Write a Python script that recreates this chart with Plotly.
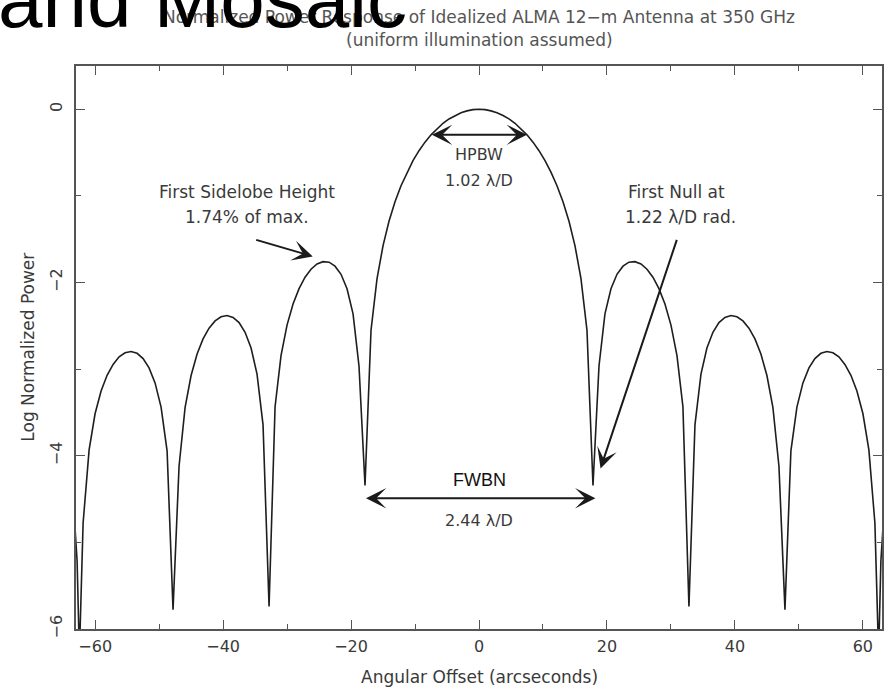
import plotly.graph_objects as go

# Angular offset (arcsec) and log10 normalized power
offset_pos = [0.00, 0.94, 1.88, 2.81, 3.75, 4.69, 5.63, 6.56, 7.50, 8.44, 9.38, 10.32,
              11.25, 12.19, 13.13, 14.07, 15.00, 15.94, 16.88, 17.82, 18.76, 19.69,
              20.63, 21.57, 22.51, 23.44, 24.38, 25.32, 26.26, 27.19, 28.13, 29.07,
              30.01, 30.95, 31.88, 32.82, 33.76, 34.70, 35.63, 36.57, 37.51, 38.45,
              39.39, 40.32, 41.26, 42.20, 43.14, 44.07, 45.01, 45.95, 46.89, 47.83,
              48.76, 49.70, 50.64, 51.58, 52.51, 53.45, 54.39, 55.33, 56.26, 57.20,
              58.14, 59.08, 60.02, 60.95, 61.89, 62.47, 62.83, 63.77]
power_pos = [0.000, -0.004, -0.018, -0.039, -0.071, -0.111, -0.161, -0.222, -0.295, -0.379,
             -0.478, -0.593, -0.726, -0.882, -1.067, -1.292, -1.574, -1.954, -2.551, -4.343,
             -2.963, -2.361, -2.071, -1.905, -1.811, -1.765, -1.759, -1.786, -1.846, -1.939,
             -2.070, -2.248, -2.492, -2.843, -3.434, -5.740, -3.643, -3.057, -2.756, -2.574,
             -2.463, -2.402, -2.381, -2.395, -2.443, -2.527, -2.651, -2.826, -3.073, -3.445,
             -4.121, -5.776, -3.943, -3.438, -3.159, -2.986, -2.878, -2.817, -2.796, -2.811,
             -2.858, -2.945, -3.071, -3.252, -3.515, -3.932, -4.776, -6.300, -5.210, -4.110]
offset_neg = [-63.77, -62.83, -62.47, -61.89, -60.95, -60.02, -59.08, -58.14, -57.20, -56.26,
              -55.33, -54.39, -53.45, -52.51, -51.58, -50.64, -49.70, -48.76, -47.83, -46.89,
              -45.95, -45.01, -44.07, -43.14, -42.20, -41.26, -40.32, -39.39, -38.45, -37.51,
              -36.57, -35.63, -34.70, -33.76, -32.82, -31.88, -30.95, -30.01, -29.07, -28.13,
              -27.19, -26.26, -25.32, -24.38, -23.44, -22.51, -21.57, -20.63, -19.69, -18.76,
              -17.82, -16.88, -15.94, -15.00, -14.07, -13.13, -12.19, -11.25, -10.32, -9.38,
              -8.44, -7.50, -6.56, -5.63, -4.69, -3.75, -2.81, -1.88, -0.94]
power_neg = [-4.110, -5.210, -6.300, -4.776, -3.932, -3.515, -3.252, -3.071, -2.945, -2.858,
             -2.811, -2.796, -2.817, -2.878, -2.986, -3.159, -3.438, -3.943, -5.776, -4.121,
             -3.445, -3.073, -2.826, -2.651, -2.527, -2.443, -2.395, -2.381, -2.402, -2.463,
             -2.574, -2.756, -3.057, -3.643, -5.740, -3.434, -2.843, -2.492, -2.248, -2.070,
             -1.939, -1.846, -1.786, -1.759, -1.765, -1.811, -1.905, -2.071, -2.361, -2.963,
             -4.343, -2.551, -1.954, -1.574, -1.292, -1.067, -0.882, -0.726, -0.593, -0.478,
             -0.379, -0.295, -0.222, -0.161, -0.111, -0.071, -0.039, -0.018, -0.004]

x_ticks = [-60, -40, -20, 0, 20, 40, 60]
x_tick_labels = ["\u221260", "\u221240", "\u221220", "0", "20", "40", "60"]
y_ticks = [0, -2, -4, -6]
y_tick_labels = ["0", "\u22122", "\u22124", "\u22126"]

title_line1 = "Normalized Power Response of Idealized ALMA 12\u2212m Antenna at 350 GHz"
title_line2 = "(uniform illumination assumed)"
overlay_text = "and Mosaic"

offsets = offset_neg + offset_pos
powers = power_neg + power_pos

TXT = "#3a3a3a"
FONT = "DejaVu Sans"

fig = go.Figure()
fig.add_trace(go.Scatter(x=offsets, y=powers, mode="lines",
                         line=dict(color="#1e1e1e", width=1.6), showlegend=False))

axis_common = dict(showgrid=False, zeroline=False, showline=True, linecolor="#555555",
                   linewidth=1.6, mirror="allticks", ticks="inside", ticklen=9,
                   tickwidth=1.4, tickcolor="#555555",
                   tickfont=dict(family=FONT, size=16, color=TXT))

fig.update_xaxes(range=[-63, 63], tickvals=x_ticks, ticktext=x_tick_labels,
                 minor=dict(dtick=10, tick0=0, ticklen=5, tickwidth=1.4,
                            tickcolor="#555555", ticks="inside"),
                 ticklabelstandoff=2, **axis_common)
fig.update_yaxes(range=[-6, 0.5], tickvals=y_ticks, ticktext=y_tick_labels,
                 tickangle=-90,
                 minor=dict(dtick=1, tick0=0, ticklen=5, tickwidth=1.4,
                            tickcolor="#555555", ticks="inside"),
                 ticklabelstandoff=6, **axis_common)

ann = []
# Title
ann.append(dict(text=title_line1, x=0, xref="x", y=1.087, yref="paper",
                xanchor="center", yanchor="middle", showarrow=False,
                font=dict(family=FONT, size=17, color="#555555")))
ann.append(dict(text=title_line2, x=0, xref="x", y=1.046, yref="paper",
                xanchor="center", yanchor="middle", showarrow=False,
                font=dict(family=FONT, size=17, color="#555555")))
# Axis titles
ann.append(dict(text="Angular Offset (arcseconds)", x=0, xref="x", y=-0.0853, yref="paper",
                xanchor="center", yanchor="middle", showarrow=False,
                font=dict(family=FONT, size=17, color=TXT)))
ann.append(dict(text="Log Normalized Power", x=-0.0606, xref="paper", y=0.5, yref="paper",
                xanchor="center", yanchor="middle", showarrow=False, textangle=-90,
                font=dict(family=FONT, size=17, color=TXT)))
# Labels
def lab(t, x, y, size=17, fam=FONT, color=TXT):
    return dict(text=t, x=x, y=y, xref="x", yref="y", showarrow=False,
                xanchor="center", yanchor="middle",
                font=dict(family=fam, size=size, color=color))

ann.append(lab("HPBW", 0, -0.525, size=16))
ann.append(lab("1.02 \u03bb/D", 0, -0.824, size=16))
ann.append(lab("First Sidelobe Height", -36.3, -0.951))
ann.append(lab("1.74% of max.", -36.2, -1.249))
ann.append(lab("First Null at", 30.9, -0.951))
ann.append(lab("1.22 \u03bb/D rad.", 31.5, -1.249))
ann.append(lab("FWBN", 0, -4.284, size=18, fam="Liberation Sans", color="#111111"))
ann.append(lab("2.44 \u03bb/D", 0, -4.744, size=16))

def arrow(x0, y0, x1, y1, both=False):
    return dict(text="", x=x1, y=y1, ax=x0, ay=y0, xref="x", yref="y",
                axref="x", ayref="y", showarrow=True, arrowhead=3, arrowsize=1.7,
                arrowwidth=2.0, arrowcolor="#1a1a1a",
                arrowside="end+start" if both else "end", startarrowhead=3,
                startarrowsize=1.7)

ann.append(arrow(-7.6, -0.295, 7.5, -0.295, both=True))
ann.append(arrow(-17.9, -4.49, 18.2, -4.49, both=True))
ann.append(arrow(-35.06, -1.502, -26.0, -1.698))
ann.append(arrow(31.0, -1.49, 19.0, -4.146))

# Large overlapping text from the slide
ann.append(dict(text=overlay_text, x=-0.099, xref="paper", y=1.0356, yref="paper",
                xanchor="left", yanchor="bottom", showarrow=False,
                font=dict(family="Liberation Sans", size=80, color="#000000")))

fig.update_layout(width=892, height=687, margin=dict(l=76, r=8, t=66, b=58),
                  paper_bgcolor="white", plot_bgcolor="white", annotations=ann,
                  showlegend=False)

fig.write_html("out.html")
